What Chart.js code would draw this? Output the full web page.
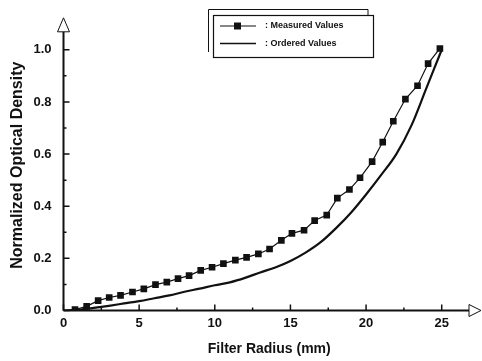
<!DOCTYPE html>
<html>
<head>
<meta charset="utf-8">
<script src="https://cdn.jsdelivr.net/npm/chart.js@4.4.1/dist/chart.umd.min.js"></script>
<style>
  html, body { margin: 0; padding: 0; background: #fff; }
  #wrap { width: 482px; height: 361px; }
</style>
</head>
<body>
<div id="wrap"><canvas id="chart" width="482" height="361"></canvas></div>
<script>
// filter radius (mm) and normalized optical density
const measuredRadius = [0.76, 1.53, 2.29, 3.02, 3.77, 4.56, 5.31, 6.08, 6.83, 7.57, 8.30,
  9.07, 9.82, 10.57, 11.36, 12.10, 12.88, 13.62, 14.40, 15.10, 15.90, 16.60, 17.40,
  18.10, 18.90, 19.60, 20.40, 21.10, 21.80, 22.60, 23.40, 24.10, 24.88];
const measuredDensity = [0.004, 0.016, 0.038, 0.050, 0.058, 0.071, 0.083, 0.099, 0.109, 0.122, 0.134,
  0.154, 0.166, 0.180, 0.193, 0.204, 0.217, 0.236, 0.269, 0.296, 0.308, 0.345, 0.366,
  0.431, 0.464, 0.509, 0.571, 0.646, 0.726, 0.811, 0.862, 0.947, 1.005];

const orderedRadius = [0, 1, 2, 3, 4, 5, 6, 7, 8, 9, 10, 11, 12, 13, 14, 15, 16, 17, 18,
  19, 20, 21, 22, 23, 24, 25];
const orderedDensity = [0, 0.003, 0.010, 0.018, 0.027, 0.036, 0.047, 0.058, 0.072, 0.084, 0.097,
  0.108, 0.125, 0.146, 0.165, 0.190, 0.222, 0.262, 0.315, 0.375, 0.445, 0.520, 0.600,
  0.710, 0.855, 1.0];

const xMajor = [0, 5, 10, 15, 20, 25];
const xMinor = [2.5, 7.5, 12.5, 17.5, 22.5];
const yMajor = [0, 0.2, 0.4, 0.6, 0.8, 1.0];
const yMinor = [0.1, 0.3, 0.5, 0.7, 0.9];

const FONT = '"Liberation Sans", Arial, sans-serif';
const INK = '#111';

const toPoints = (xs, ys) => xs.map((x, i) => ({x: x, y: ys[i]}));

// axes with inward ticks and open arrow heads, like the scanned figure
const axesPlugin = {
    id: 'axes',
    afterDatasetsDraw(chart) {
        const {ctx, scales: {x, y}} = chart;
        const x0 = x.getPixelForValue(0);
        const y0 = y.getPixelForValue(0);
        ctx.save();
        ctx.strokeStyle = INK;
        ctx.lineWidth = 2;
        ctx.beginPath();
        ctx.moveTo(x0, y0);
        ctx.lineTo(x0, y.top + 12);
        ctx.moveTo(x0, y0);
        ctx.lineTo(x.right - 6, y0);
        ctx.stroke();

        ctx.lineWidth = 1.5;
        ctx.beginPath();
        xMajor.forEach(v => { const p = x.getPixelForValue(v); ctx.moveTo(p, y0); ctx.lineTo(p, y0 - 6); });
        xMinor.forEach(v => { const p = x.getPixelForValue(v); ctx.moveTo(p, y0); ctx.lineTo(p, y0 - 3); });
        yMajor.forEach(v => { const p = y.getPixelForValue(v); ctx.moveTo(x0, p); ctx.lineTo(x0 + 6, p); });
        yMinor.forEach(v => { const p = y.getPixelForValue(v); ctx.moveTo(x0, p); ctx.lineTo(x0 + 3, p); });
        ctx.stroke();

        // arrow heads
        ctx.lineWidth = 1;
        ctx.fillStyle = '#fff';
        ctx.beginPath();
        ctx.moveTo(x0, y.top - 2);
        ctx.lineTo(x0 - 6, y.top + 12);
        ctx.lineTo(x0 + 6, y.top + 12);
        ctx.closePath();
        ctx.fill();
        ctx.stroke();
        ctx.beginPath();
        ctx.moveTo(x.right + 6, y0);
        ctx.lineTo(x.right - 6, y0 - 6);
        ctx.lineTo(x.right - 6, y0 + 6);
        ctx.closePath();
        ctx.fill();
        ctx.stroke();
        ctx.restore();
    }
};

// boxed legend with a double frame
const legendPlugin = {
    id: 'boxLegend',
    afterDraw(chart) {
        const ctx = chart.ctx;
        const left = 213, top = 15, w = 160, h = 42;
        ctx.save();
        ctx.strokeStyle = INK;
        ctx.lineWidth = 1;
        ctx.beginPath();
        ctx.moveTo(208.5, 52);
        ctx.lineTo(208.5, 9.5);
        ctx.lineTo(368, 9.5);
        ctx.lineTo(368, 15);
        ctx.stroke();
        ctx.fillStyle = '#fff';
        ctx.fillRect(left, top, w, h);
        ctx.lineWidth = 1.2;
        ctx.strokeRect(left + 0.5, top + 0.5, w, h);

        chart.data.datasets.forEach((ds, i) => {
            const ly = 26 + i * 17.5;
            ctx.strokeStyle = INK;
            ctx.lineWidth = i === 0 ? 1.2 : 1.6;
            ctx.beginPath();
            ctx.moveTo(220, ly);
            ctx.lineTo(256, ly);
            ctx.stroke();
            if (i === 0) {
                ctx.fillStyle = INK;
                ctx.fillRect(234, ly - 3.5, 7, 7);
            }
            ctx.fillStyle = INK;
            ctx.font = 'bold 9px ' + FONT;
            ctx.textBaseline = 'middle';
            ctx.fillText(': ' + ds.label, 265, ly);
        });
        ctx.restore();
    }
};

new Chart(document.getElementById('chart'), {
    type: 'line',
    data: {
        datasets: [
            {
                label: 'Measured Values',
                data: toPoints(measuredRadius, measuredDensity),
                borderColor: INK,
                backgroundColor: INK,
                borderWidth: 1.2,
                pointStyle: 'rect',
                pointRadius: 4.7,
                pointBorderWidth: 0,
                tension: 0
            },
            {
                label: 'Ordered Values',
                data: toPoints(orderedRadius, orderedDensity),
                borderColor: INK,
                borderWidth: 2.2,
                pointRadius: 0,
                cubicInterpolationMode: 'monotone'
            }
        ]
    },
    options: {
        responsive: false,
        animation: false,
        layout: {padding: {top: 5, right: 7, left: 0, bottom: 0}},
        plugins: {legend: {display: false}, tooltip: {enabled: false}},
        scales: {
            x: {
                type: 'linear',
                min: 0,
                max: 27.2,
                afterFit(scale) { scale.height = 50.5; },
                afterBuildTicks(scale) { scale.ticks = xMajor.map(v => ({value: v})); },
                border: {display: false},
                grid: {display: false, drawTicks: false},
                ticks: {
                    padding: 5,
                    color: INK,
                    font: {family: FONT, size: 13, weight: 'bold'},
                    maxRotation: 0,
                    callback: v => String(v)
                },
                title: {
                    display: true,
                    text: 'Filter Radius (mm)',
                    color: INK,
                    font: {family: FONT, size: 14, weight: 'bold'},
                    padding: {top: 0, bottom: 3}
                }
            },
            y: {
                min: 0,
                max: 1.115,
                afterFit(scale) { scale.width = 63.5; },
                afterBuildTicks(scale) { scale.ticks = yMajor.map(v => ({value: v})); },
                border: {display: false},
                grid: {display: false, drawTicks: false},
                ticks: {
                    padding: 12,
                    color: INK,
                    font: {family: FONT, size: 13, weight: 'bold'},
                    callback: v => v.toFixed(1)
                },
                title: {
                    display: true,
                    text: 'Normalized Optical Density',
                    color: INK,
                    font: {family: FONT, size: 16, weight: 'bold'},
                    padding: {top: 8, bottom: 0}
                }
            }
        }
    },
    plugins: [axesPlugin, legendPlugin]
});
</script>
</body>
</html>
